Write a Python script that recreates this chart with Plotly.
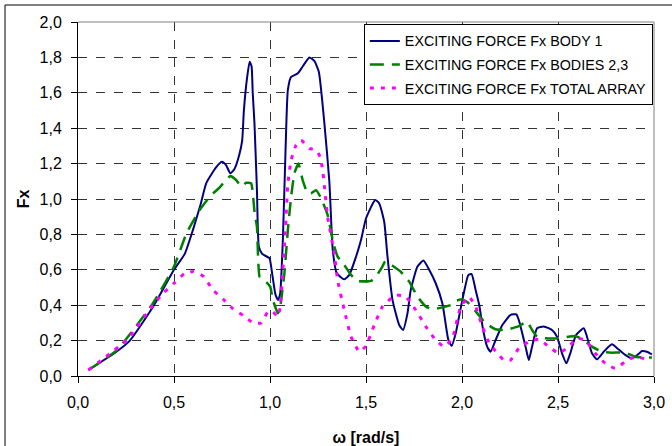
import plotly.graph_objects as go

# ---- data ----
w_body1 = [0.054, 0.20, 0.27, 0.39, 0.50, 0.556, 0.60, 0.64, 0.668, 0.72, 0.75, 0.772, 0.793, 0.815,
           0.84, 0.855, 0.864, 0.88, 0.894, 0.904, 0.91, 0.919, 0.932, 0.942, 0.959, 0.997, 1.011,
           1.029, 1.043, 1.053, 1.067, 1.081, 1.093, 1.110, 1.145, 1.171, 1.205, 1.231, 1.254, 1.283,
           1.309, 1.327, 1.348, 1.387, 1.413, 1.448, 1.474, 1.500, 1.548, 1.569, 1.595, 1.612, 1.638,
           1.673, 1.693, 1.716, 1.733, 1.768, 1.799, 1.829, 1.863, 1.898, 1.929, 1.946, 1.967, 2.002,
           2.033, 2.050, 2.071, 2.09, 2.11, 2.131, 2.149, 2.175, 2.21, 2.253, 2.283, 2.296, 2.331,
           2.348, 2.365, 2.391, 2.426, 2.469, 2.495, 2.521, 2.544, 2.564, 2.594, 2.634, 2.651, 2.677,
           2.703, 2.738, 2.781, 2.816, 2.85, 2.885, 2.919, 2.937, 2.963, 2.989]
f_body1 = [0.034, 0.137, 0.20, 0.39, 0.60, 0.69, 0.83, 0.975, 1.09, 1.18, 1.21, 1.19, 1.145, 1.17,
           1.25, 1.33, 1.50, 1.68, 1.776, 1.75, 1.60, 1.43, 1.05, 0.73, 0.69, 0.665, 0.58,
           0.458, 0.43, 0.467, 0.77, 1.277, 1.616, 1.69, 1.71, 1.75, 1.80, 1.78, 1.72, 1.43,
           1.10, 0.71, 0.58, 0.546, 0.571, 0.674, 0.768, 0.89, 0.994, 0.975, 0.87, 0.674, 0.43,
           0.288, 0.26, 0.354, 0.486, 0.618, 0.652, 0.60, 0.524, 0.41, 0.203, 0.17, 0.24, 0.43,
           0.57, 0.576, 0.486, 0.40, 0.26, 0.166, 0.137, 0.203, 0.288, 0.345, 0.348, 0.316, 0.166,
           0.09, 0.166, 0.27, 0.28, 0.26, 0.222, 0.128, 0.072, 0.128, 0.232, 0.27, 0.222, 0.128,
           0.094, 0.137, 0.179, 0.15, 0.119, 0.10, 0.124, 0.141, 0.137, 0.122]

w_bodies23 = [0.054, 0.20, 0.39, 0.50, 0.565, 0.634, 0.686, 0.738, 0.793, 0.824, 0.85, 0.876, 0.902,
              0.92, 0.932, 0.946, 0.971, 1.001, 1.015, 1.041, 1.053, 1.075, 1.093, 1.110, 1.127,
              1.148, 1.170, 1.196, 1.214, 1.240, 1.266, 1.300, 1.330, 1.352, 1.387, 1.422, 1.457,
              1.526, 1.552, 1.586, 1.600, 1.638, 1.681, 1.725, 1.768, 1.812, 1.846, 1.898, 1.941,
              1.967, 2.002, 2.036, 2.080, 2.123, 2.175, 2.227, 2.296, 2.339, 2.365, 2.391, 2.435,
              2.504, 2.556, 2.590, 2.634, 2.677, 2.729, 2.781, 2.85, 2.902, 2.989]
f_bodies23 = [0.034, 0.143, 0.41, 0.618, 0.806, 0.938, 1.013, 1.066, 1.13, 1.107, 1.07, 1.092, 1.088,
              0.92, 0.844, 0.56, 0.542, 0.505, 0.43, 0.354, 0.39, 0.58, 0.825, 1.013, 1.145,
              1.20, 1.107, 1.032, 1.032, 1.05, 1.004, 0.91, 0.75, 0.674, 0.627, 0.571, 0.537,
              0.537, 0.561, 0.62, 0.648, 0.623, 0.589, 0.533, 0.448, 0.392, 0.377, 0.388, 0.40,
              0.424, 0.433, 0.41, 0.354, 0.298, 0.264, 0.26, 0.282, 0.307, 0.26, 0.222, 0.213,
              0.213, 0.222, 0.226, 0.203, 0.166, 0.137, 0.132, 0.132, 0.109, 0.104]

w_total = [0.054, 0.253, 0.39, 0.443, 0.50, 0.556, 0.60, 0.651, 0.703, 0.755, 0.807, 0.863, 0.915,
           0.954, 0.989, 1.015, 1.041, 1.053, 1.067, 1.081, 1.093, 1.110, 1.136, 1.162, 1.205,
           1.240, 1.261, 1.274, 1.300, 1.335, 1.352, 1.387, 1.422, 1.465, 1.500, 1.543, 1.586,
           1.655, 1.707, 1.759, 1.812, 1.863, 1.907, 1.950, 1.993, 2.036, 2.071, 2.106, 2.140,
           2.184, 2.218, 2.253, 2.296, 2.348, 2.400, 2.452, 2.504, 2.556, 2.599, 2.642, 2.694,
           2.746, 2.798, 2.85, 2.902, 2.963]
f_total = [0.034, 0.203, 0.40, 0.467, 0.524, 0.58, 0.59, 0.565, 0.486, 0.435, 0.38, 0.34, 0.298,
           0.30, 0.363, 0.363, 0.335, 0.39, 0.60, 0.844, 1.088, 1.22, 1.305, 1.333, 1.286,
           1.277, 1.239, 1.164, 0.90, 0.69, 0.542, 0.373, 0.222, 0.137, 0.17, 0.288, 0.392,
           0.458, 0.448, 0.373, 0.279, 0.203, 0.166, 0.213, 0.392, 0.448, 0.392, 0.279, 0.19,
           0.128, 0.09, 0.09, 0.156, 0.194, 0.207, 0.166, 0.128, 0.166, 0.213, 0.203, 0.128,
           0.072, 0.043, 0.081, 0.109, 0.094]

names = ["EXCITING FORCE Fx BODY 1", "EXCITING FORCE Fx BODIES 2,3", "EXCITING FORCE Fx TOTAL ARRAY"]

FONT = "Liberation Sans, Arial, sans-serif"

fig = go.Figure()
fig.add_trace(go.Scatter(x=w_body1, y=f_body1, mode="lines", name=names[0], legendgroup="a",
                         line=dict(color="#000080", width=2, shape="spline", smoothing=0.5)))
fig.add_trace(go.Scatter(x=w_bodies23, y=f_bodies23, mode="lines", name=names[1], legendgroup="b",
                         line=dict(color="#008000", width=2.5, dash="14px,8px", shape="spline", smoothing=0.4)))
fig.add_trace(go.Scatter(x=w_total, y=f_total, mode="lines", name=names[2], legendgroup="c",
                         line=dict(color="#FF00FF", width=3, dash="4px,7px", shape="spline", smoothing=0.4)))

fig.update_layout(
    width=672, height=446,
    margin=dict(l=78, r=18, t=22, b=70),
    paper_bgcolor="white", plot_bgcolor="white",
    separators=",.",
    font=dict(family=FONT, size=16, color="black"),
    showlegend=True,
    legend=dict(x=0.998, xanchor="right", y=0.994, yanchor="top",
                bgcolor="white", bordercolor="black", borderwidth=1,
                font=dict(family=FONT, size=14.3, color="black"),
                traceorder="grouped", tracegroupgap=2),
)
fig.update_xaxes(range=[0, 3], dtick=0.5, tick0=0, tickformat=".1f",
                 showgrid=True, gridcolor="#333333", griddash="dash", gridwidth=1,
                 showline=True, linecolor="black", linewidth=1,
                 ticks="outside", ticklen=6, tickcolor="black", ticklabelstandoff=6,
                 tickfont=dict(size=16), automargin=False,
                 zeroline=False,
                 title=dict(text="<b>ω [rad/s]</b>", font=dict(size=16), standoff=22))
fig.update_yaxes(range=[0, 2], dtick=0.2, tick0=0, tickformat=".1f",
                 showgrid=True, gridcolor="#333333", griddash="dash", gridwidth=1,
                 showline=True, linecolor="black", linewidth=1,
                 ticks="outside", ticklen=6, tickcolor="black", ticklabelstandoff=6,
                 tickfont=dict(size=16), automargin=False,
                 zeroline=False,
                 title=dict(text="<b>Fx</b>", font=dict(size=16), standoff=5))

# plot area border (top/right, gray) and outer chart frame
fig.add_shape(type="line", xref="paper", yref="paper", x0=0, x1=1, y0=1, y1=1,
              line=dict(color="#808080", width=1))
fig.add_shape(type="line", xref="paper", yref="paper", x0=1, x1=1, y0=0, y1=1,
              line=dict(color="#808080", width=1))
fig.add_shape(type="rect", xref="paper", yref="paper", x0=-0.1267, x1=1.5, y0=-0.6, y1=1.048,
              line=dict(color="black", width=1), fillcolor="rgba(0,0,0,0)", layer="below")

fig.write_html("out.html")
